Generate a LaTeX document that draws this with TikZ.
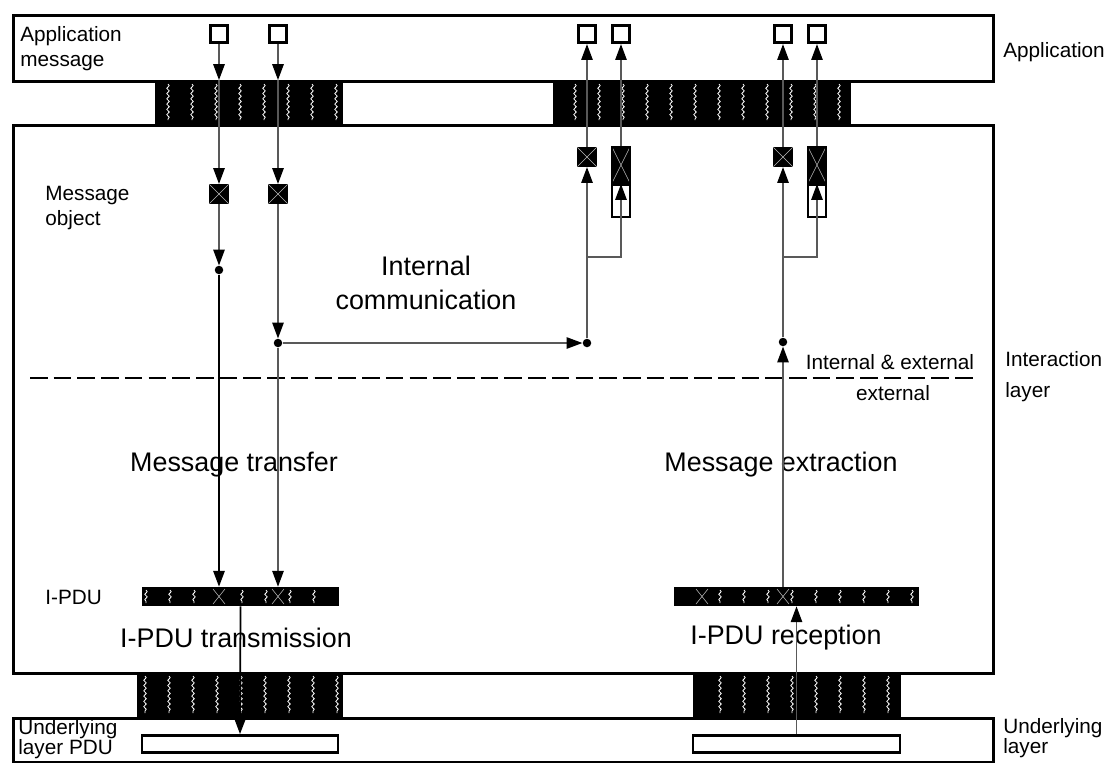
\documentclass[tikz,border=0pt]{standalone}
\usepackage{fontspec}
\setmainfont{Liberation Sans}
\usetikzlibrary{arrows.meta, positioning, decorations.pathmorphing}

\newcommand{\lblsize}{\fontsize{11.8}{14.2}\selectfont}
\newcommand{\bigsize}{\fontsize{15.3}{19.3}\selectfont}

\begin{document}
\begin{tikzpicture}[
  x=0.02cm, y=-0.02cm,
  layerbox/.style = {draw, line width=1.6pt, inner sep=0, anchor=north west,
                     minimum width=19.6cm},
  band/.style     = {fill=black, inner sep=0, anchor=north west, minimum height=0.88cm},
  appmsg/.style   = {draw, line width=1.6pt, fill=white, inner sep=0, minimum size=0.35cm},
  msgobj/.style   = {fill=black, inner sep=0, minimum size=0.39cm,
                     path picture={\draw[gray!55, line width=0.3pt]
                       (path picture bounding box.north west) -- (path picture bounding box.south east)
                       (path picture bounding box.north east) -- (path picture bounding box.south west);}},
  qtop/.style     = {msgobj, draw, line width=1.2pt, minimum width=0.36cm, minimum height=0.72cm},
  qbot/.style     = {draw, line width=1.2pt, fill=white, inner sep=0, minimum width=0.36cm,
                     minimum height=0.64cm},
  ipdu/.style     = {fill=black, inner sep=0, minimum height=0.38cm},
  pdubox/.style   = {draw, line width=1.6pt, inner sep=0, minimum height=0.34cm},
  joint/.style    = {circle, fill=black, inner sep=0, minimum size=0.17cm},
  arr/.style      = {-{Triangle[length=9pt, width=6.5pt, color=black]}, line width=0.8pt,
                     draw=black!65},
  arrdark/.style  = {arr, draw=black, line width=1pt},
  wavy/.style     = {white, line width=0.45pt, decorate,
                     decoration={snake, amplitude=0.7pt, segment length=3pt}},
  lbl/.style      = {font=\lblsize, align=left, inner sep=0},
  bigtext/.style  = {font=\bigsize, align=center, inner sep=0}
]
  \useasboundingbox (0,0) rectangle (1107,762);

  %% Layers
  \node[layerbox, minimum height=1.32cm]  (app)   at (12,14)  {};
  \node[layerbox, minimum height=10.96cm] (inter) at (12,124) {};
  \node[layerbox, minimum height=0.88cm]  (under) at (12,717) {};

  %% Interfaces between the layers
  \node[band, minimum width=3.76cm] (bandTL) at (155,80) {};
  \node[band, minimum width=5.96cm] (bandTR) at (553,80) {};
  \node[band, minimum width=4.12cm, minimum height=0.9cm] (bandBL) at (137,672) {};
  \node[band, minimum width=4.16cm, minimum height=0.9cm] (bandBR) at (693,672) {};
  \foreach \x in {168,192,...,336} \draw[wavy] (\x,84) -- (\x,120);
  \foreach \x in {575,599,...,839} \draw[wavy] (\x,84) -- (\x,120);
  \foreach \x in {145,169,...,337} \draw[wavy] (\x,676) -- (\x,713);
  \foreach \x in {720,744,...,888} \draw[wavy] (\x,676) -- (\x,713);

  %% Application messages
  \node[appmsg] (appA1) at (219,34) {};
  \node[appmsg] (appA2) at (278,34) {};
  \node[appmsg] (appB1) at (587,34) {};
  \node[appmsg] (appB2) at (621,34) {};
  \node[appmsg] (appC1) at (783,34) {};
  \node[appmsg] (appC2) at (817,34) {};
  \coordinate (inA) at (219,80);
  \coordinate (inB) at (278,80);

  %% Message objects
  \node[msgobj] (moA) at (219,194) {};
  \node[msgobj] (moB) at (278,194) {};
  \node[msgobj] (rxA) at (587,157) {};
  \node[qtop]   (rqA) at (621,165) {};
  \node[qbot, below=0pt of rqA] (rqAin) {};
  \node[msgobj] (rxC) at (783,157) {};
  \node[qtop]   (rqC) at (817,165) {};
  \node[qbot, below=0pt of rqC] (rqCin) {};

  \node[joint] (jA) at (219,270) {};
  \node[joint] (jB) at (278,343) {};
  \node[joint] (jR) at (587,343) {};
  \node[joint] (jX) at (783,342) {};
  \coordinate (brA) at (587,257);
  \coordinate (brC) at (783,257);

  %% I-PDUs and underlying PDUs
  \node[ipdu, minimum width=3.94cm] (ipduT) at (240.5,596.5) {};
  \node[ipdu, minimum width=4.9cm]  (ipduR) at (796.5,596.5) {};
  \foreach \x in {146,170,194,242,266,290,314} \draw[wavy] (\x,590) -- (\x,603);
  \foreach \x in {720,744,...,912} \draw[wavy] (\x,590) -- (\x,603);
  \foreach \x in {219,278,702,783}
    \draw[gray!45, line width=0.3pt] (\x-6,589) -- (\x+6,604) (\x+6,589) -- (\x-6,604);
  \node[pdubox, minimum width=3.92cm] (pduT) at (240,744)   {};
  \node[pdubox, minimum width=4.14cm] (pduR) at (796.5,744) {};

  %% Internal / external border
  \coordinate (dashL) at (30,378);
  \coordinate (dashR) at (978,378);
  \draw[line width=1pt, dash pattern=on 10pt off 3.5pt] (dashL) -- (dashR);

  %% Labels
  \node[lbl, anchor=west] (lblApp)  at (20,49)   {Application\\message};
  \node[lbl, anchor=west] (lblAppR) at (1003,52) {Application};
  \node[lbl, anchor=west] (lblMo)   at (45,208)  {Message\\object};
  \node[bigtext] (lblInt) at (426,283) {Internal\\communication};
  \node[lbl] (lblIE) at (890,362) {Internal \& external};
  \node[lbl] (lblE)  at (893,393) {external};
  \node[lbl, anchor=west, font=\fontsize{11.8}{17.6}\selectfont] (lblInter) at (1005,377)
       {Interaction\\layer};
  \node[bigtext] (lblTx) at (234,465) {Message transfer};
  \node[bigtext] (lblRx) at (781,465) {Message extraction};
  \node[lbl, anchor=west] (lblIpdu) at (45,597) {I-PDU};
  \node[bigtext] (lblTm) at (236,638) {I-PDU transmission};
  \node[bigtext] (lblRc) at (786,638) {I-PDU reception};
  \node[lbl, anchor=west, font=\fontsize{11.8}{11.5}\selectfont] (lblUnd) at (18,739)
       {Underlying\\layer PDU};
  \node[lbl, anchor=west, font=\fontsize{11.8}{11.8}\selectfont] (lblUndR) at (1003,738)
       {Underlying\\layer};

  %% Transfer side
  \draw[arr] (appA1) -- (inA);
  \draw[arr] (inA) -- (moA);
  \draw[arr] (appA2) -- (inB);
  \draw[arr] (inB) -- (moB);
  \draw[arr] (moA) -- (jA);
  \draw[arr] (moB) -- (jB);
  \draw[arrdark] (jA) -- (jA |- ipduT.north);
  \draw[arr] (jB) -- (jB |- ipduT.north);
  \draw[arrdark] (ipduT.south) -- (pduT.north);

  %% Internal communication
  \draw[arr] (jB) -- (jR);
  \draw[arr] (jR) -- (rxA);
  \draw[arr] (brA) -| (rqAin.north);
  \draw[arr] (rxA) -- (appB1);
  \draw[arr] (rqA) -- (appB2);

  %% Extraction side
  \draw[arr] (pduR) -- (ipduR);
  \draw[arr] (jX |- ipduR.north) -- (jX);
  \draw[arr] (jX) -- (rxC);
  \draw[arr] (brC) -| (rqCin.north);
  \draw[arr] (rxC) -- (appC1);
  \draw[arr] (rqC) -- (appC2);
\end{tikzpicture}
\end{document}
